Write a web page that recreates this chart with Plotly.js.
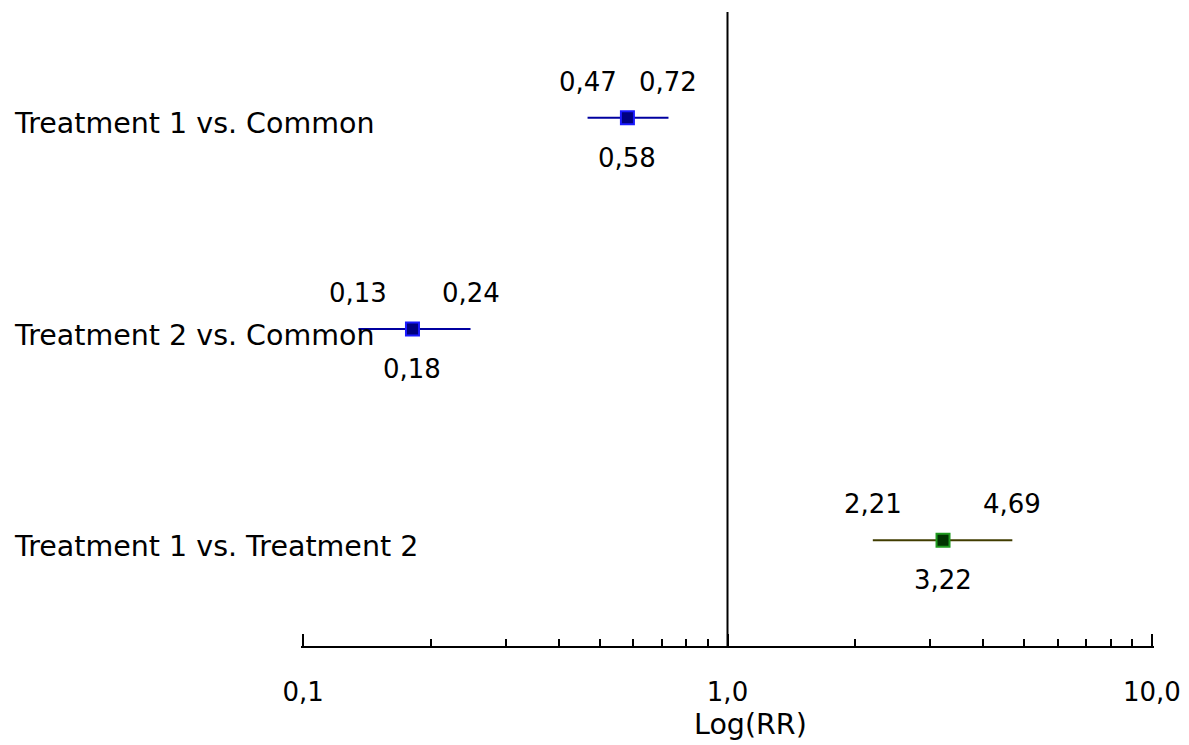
<!DOCTYPE html>
<html>
<head>
<meta charset="utf-8">
<script src="https://cdn.plot.ly/plotly-3.0.1.min.js"></script>
<style>html,body{margin:0;padding:0;background:#fff;}#chart{width:1189px;height:745px;}</style>
</head>
<body>
<div id="chart"></div>
<script>
// Data
const comparisons = ["Treatment 1 vs. Common", "Treatment 2 vs. Common", "Treatment 1 vs. Treatment 2"];
const rowPos = [3, 2, 1];
const estimate = [0.581, 0.181, 3.22];
const lower = [0.468, 0.135, 2.20];
const upper = [0.726, 0.248, 4.69];
const estLabel = ["0,58", "0,18", "3,22"];
const lowerLabel = ["0,47", "0,13", "2,21"];
const upperLabel = ["0,72", "0,24", "4,69"];
const markerFill = ["#000080", "#000080", "#003300"];
const markerEdge = ["#1a1aff", "#1a1aff", "#1f9a1f"];
const ciColor = ["#0000a0", "#0000a0", "#403c00"];
const tickVals = [0.1, 1, 10];
const tickText = ["0,1", "1,0", "10,0"];
const axisTitle = "Log(RR)";

const FONT = "DejaVu Sans, Verdana, sans-serif";

const traces = [];
// reference line at RR = 1
traces.push({
  x: [1, 1], y: [0.5, 3.5], mode: "lines", type: "scatter",
  line: {color: "black", width: 2}, hoverinfo: "skip", showlegend: false
});
comparisons.forEach((c, i) => {
  traces.push({
    x: [estimate[i]], y: [rowPos[i]], type: "scatter", mode: "markers",
    name: c, showlegend: false,
    marker: {symbol: "square", size: 13, color: markerFill[i], line: {color: markerEdge[i], width: 2}},
    error_x: {type: "data", symmetric: false,
      array: [upper[i] - estimate[i]], arrayminus: [estimate[i] - lower[i]],
      width: 0, thickness: 2, color: ciColor[i]}
  });
});

const annotations = [];
comparisons.forEach((c, i) => {
  annotations.push({xref: "paper", yref: "y", x: -0.3388, y: rowPos[i], yshift: -6,
    xanchor: "left", yanchor: "middle", text: c, showarrow: false,
    font: {family: FONT, size: 28.5, color: "black"}});
  annotations.push({xref: "x", yref: "y", x: Math.log10(lower[i]), y: rowPos[i], yshift: 36,
    xanchor: "center", yanchor: "middle", text: lowerLabel[i], showarrow: false,
    font: {family: FONT, size: 26, color: "black"}});
  annotations.push({xref: "x", yref: "y", x: Math.log10(upper[i]), y: rowPos[i], yshift: 36,
    xanchor: "center", yanchor: "middle", text: upperLabel[i], showarrow: false,
    font: {family: FONT, size: 26, color: "black"}});
  annotations.push({xref: "x", yref: "y", x: Math.log10(estimate[i]), y: rowPos[i], yshift: -40,
    xanchor: "center", yanchor: "middle", text: estLabel[i], showarrow: false,
    font: {family: FONT, size: 26, color: "black"}});
});
annotations.push({xref: "paper", yref: "paper", x: 0.5275, y: -0.1246,
  xanchor: "center", yanchor: "middle", text: axisTitle, showarrow: false,
  font: {family: FONT, size: 28.5, color: "black"}});

const layout = {
  width: 1189, height: 745,
  margin: {l: 301, r: 35, t: 12, b: 99, pad: 0},
  paper_bgcolor: "white", plot_bgcolor: "white",
  font: {family: FONT, size: 26, color: "black"},
  showlegend: false,
  xaxis: {
    type: "log", range: [-1.005, 1.005], showgrid: false, zeroline: false,
    showline: true, linecolor: "black", linewidth: 2,
    ticks: "inside", ticklen: 12, tickwidth: 2, tickcolor: "black",
    tickvals: tickVals, ticktext: tickText,
    ticklabelstandoff: 22,
    tickfont: {family: FONT, size: 26, color: "black"},
    minor: {dtick: "D1", ticks: "inside", ticklen: 7, tickwidth: 2, tickcolor: "black", showgrid: false},
    fixedrange: true
  },
  yaxis: {
    range: [0.5, 3.5], visible: false, showgrid: false, zeroline: false, fixedrange: true
  },
  annotations: annotations
};

Plotly.newPlot("chart", traces, layout, {displayModeBar: false, staticPlot: true});
</script>
</body>
</html>
